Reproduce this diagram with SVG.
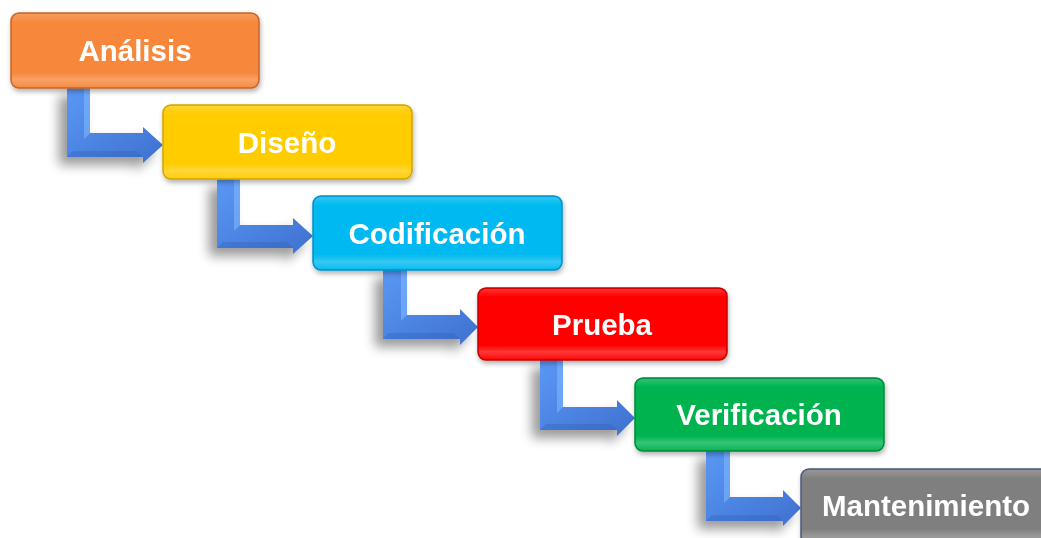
<svg xmlns="http://www.w3.org/2000/svg" width="1041" height="538" viewBox="0 0 1041 538">
  <defs>
    <filter id="shArrow" x="-50%" y="-50%" width="200%" height="200%">
      <feGaussianBlur in="SourceAlpha" stdDeviation="6"/>
      <feOffset dx="-8" dy="8" result="b"/>
      <feComponentTransfer><feFuncA type="linear" slope="0.4"/></feComponentTransfer>
      <feMerge><feMergeNode/><feMergeNode in="SourceGraphic"/></feMerge>
    </filter>
    <filter id="shBox" x="-20%" y="-30%" width="140%" height="160%">
      <feGaussianBlur in="SourceAlpha" stdDeviation="2.5"/>
      <feOffset dx="1" dy="3" result="b"/>
      <feComponentTransfer><feFuncA type="linear" slope="0.3"/></feComponentTransfer>
      <feMerge><feMergeNode/><feMergeNode in="SourceGraphic"/></feMerge>
    </filter>
    <linearGradient id="gArrow" x1="0" y1="0" x2="1" y2="1">
      <stop offset="0" stop-color="#5a98f5"/>
      <stop offset="1" stop-color="#3f70cf"/>
    </linearGradient>
    <linearGradient id="gloss" x1="0" y1="0" x2="0" y2="1">
      <stop offset="0" stop-color="#fff" stop-opacity="0.18"/>
      <stop offset="0.12" stop-color="#fff" stop-opacity="0"/>
      <stop offset="0.8" stop-color="#fff" stop-opacity="0"/>
      <stop offset="0.9" stop-color="#fff" stop-opacity="0.22"/>
      <stop offset="1" stop-color="#fff" stop-opacity="0.05"/>
    </linearGradient>
  </defs>
  <style>
    .box { stroke-width: 1.5; }
    .gl { fill: url(#gloss); stroke: none; }
    .lbl { font-family: "Liberation Sans", Arial, sans-serif; font-weight: bold; font-size: 29.5px; fill: #ffffff; text-anchor: middle; }
    .arr { fill: url(#gArrow); filter: url(#shArrow); }
    .hl { fill: #80b8ff; opacity: 0.6; }
    .dk { fill: #2f5fb8; opacity: 0.35; }
  </style>

  <g id="connectors">
    <path class="arr" d="M67,88 L90,88 L90,133 L143,133 L143,127 L163,145 L143,163 L143,157 L67,157 Z"/>
    <path class="hl" d="M84,88 L90,88 L90,133 L84,139 Z"/>
    <path class="dk" d="M67,157 L143,157 L137,151 L73,151 Z"/>

    <path class="arr" d="M217,179 L240,179 L240,225 L293,225 L293,218 L313,236 L293,254 L293,248 L217,248 Z"/>
    <path class="hl" d="M234,179 L240,179 L240,225 L234,231 Z"/>
    <path class="dk" d="M217,248 L293,248 L287,242 L223,242 Z"/>

    <path class="arr" d="M383,270 L407,270 L407,315 L460,315 L460,309 L478,327 L460,345 L460,339 L383,339 Z"/>
    <path class="hl" d="M401,270 L407,270 L407,315 L401,321 Z"/>
    <path class="dk" d="M383,339 L460,339 L454,333 L389,333 Z"/>

    <path class="arr" d="M540,360 L563,360 L563,407 L617,407 L617,400 L635,418 L617,436 L617,430 L540,430 Z"/>
    <path class="hl" d="M557,360 L563,360 L563,407 L557,413 Z"/>
    <path class="dk" d="M540,430 L617,430 L611,424 L546,424 Z"/>

    <path class="arr" d="M706,451 L730,451 L730,497 L783,497 L783,490 L801,508 L783,526 L783,521 L706,521 Z"/>
    <path class="hl" d="M724,451 L730,451 L730,497 L724,503 Z"/>
    <path class="dk" d="M706,521 L783,521 L777,515 L712,515 Z"/>
  </g>

  <g id="analisis" filter="url(#shBox)">
    <rect class="box" x="11" y="13" width="248" height="75" rx="8" fill="#f6873a" stroke="#c8652a"/>
    <rect class="gl" x="12" y="14" width="246" height="73" rx="7"/>
    <text class="lbl" x="135" y="61">Análisis</text>
  </g>
  <g id="diseno" filter="url(#shBox)">
    <rect class="box" x="163" y="105" width="249" height="74" rx="8" fill="#ffcc00" stroke="#d0a400"/>
    <rect class="gl" x="164" y="106" width="247" height="72" rx="7"/>
    <text class="lbl" x="287" y="153">Diseño</text>
  </g>
  <g id="codificacion" filter="url(#shBox)">
    <rect class="box" x="313" y="196" width="249" height="74" rx="8" fill="#00b9f0" stroke="#0092c6"/>
    <rect class="gl" x="314" y="197" width="247" height="72" rx="7"/>
    <text class="lbl" x="437" y="244">Codificación</text>
  </g>
  <g id="prueba" filter="url(#shBox)">
    <rect class="box" x="478" y="288" width="249" height="72" rx="8" fill="#ff0000" stroke="#c80000"/>
    <rect class="gl" x="479" y="289" width="247" height="70" rx="7"/>
    <text class="lbl" x="602" y="335">Prueba</text>
  </g>
  <g id="verificacion" filter="url(#shBox)">
    <rect class="box" x="635" y="378" width="249" height="73" rx="8" fill="#00b350" stroke="#00883c"/>
    <rect class="gl" x="636" y="379" width="247" height="71" rx="7"/>
    <text class="lbl" x="759" y="425">Verificación</text>
  </g>
  <g id="mantenimiento" filter="url(#shBox)">
    <rect class="box" x="801" y="469" width="252" height="76" rx="8" fill="#7f7f7f" stroke="#4a5d7a"/>
    <rect class="gl" x="802" y="470" width="250" height="74" rx="7"/>
    <text class="lbl" x="926" y="516">Mantenimiento</text>
  </g>
</svg>
